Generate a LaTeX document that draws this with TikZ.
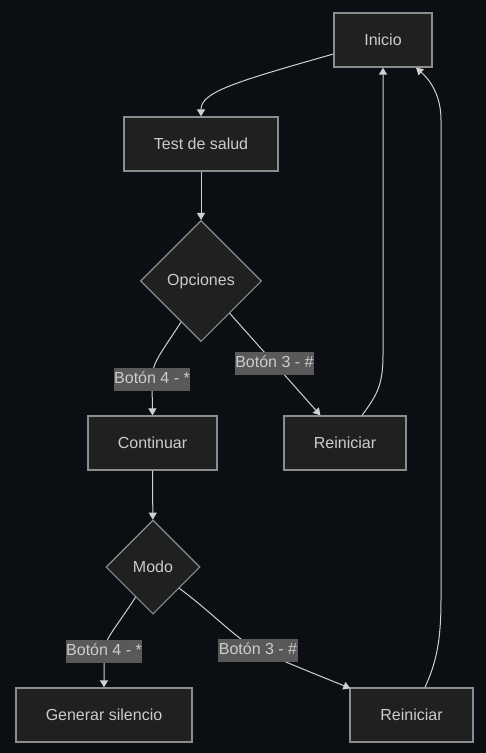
\documentclass[tikz,border=0pt]{standalone}
\usepackage{fontspec}
\setmainfont{Liberation Sans}
\usetikzlibrary{arrows.meta,positioning,shapes.geometric,calc}
\definecolor{canvas}{HTML}{0B0F14}
\definecolor{boxfill}{HTML}{1F2020}
\definecolor{boxline}{HTML}{8C8C8C}
\definecolor{ink}{HTML}{CCCCCC}
\definecolor{wire}{HTML}{D0D0D0}
\definecolor{tagfill}{HTML}{595959}
\tikzset{flowbox/.style={draw=boxline,fill=boxfill,line width=1.3pt,text=ink,
 font=\fontsize{16}{19}\selectfont,minimum height=54pt,inner sep=0pt},
 flowchoice/.style={diamond,draw=boxline,fill=boxfill,line width=1.1pt,text=ink,
 font=\fontsize{16}{19}\selectfont,inner sep=0pt,aspect=1},
 flowtag/.style={fill=tagfill,text=ink,font=\fontsize{16}{19}\selectfont,
 inner xsep=0.5pt,inner ysep=3.5pt,text height=12pt,text depth=4pt},
 flowarrow/.style={-{Triangle[length=7pt,width=8pt]},draw=wire,line width=1pt}}

\begin{document}
\begin{tikzpicture}[x=1pt,y=-1pt]
\fill[canvas] (0,0) rectangle (486,753);
\useasboundingbox (0,0) rectangle (486,753);
\node[flowbox,minimum width=98pt] (inicio) at (383,40) {Inicio};
\node[flowbox,minimum width=154pt] (test) at (201,144) {Test de salud};
\node[flowchoice,minimum size=121pt] (opciones) at (201,281) {Opciones};
\node[flowbox,minimum width=129pt] (continuar) at (152.5,443) {Continuar};
\node[flowbox,minimum width=122pt] (reiniciarA) at (345,443) {Reiniciar};
\node[flowchoice,minimum size=94pt] (modo) at (153,567) {Modo};
\node[flowbox,minimum width=176pt] (generar) at (104,715) {Generar silencio};
\node[flowbox,minimum width=123pt] (reiniciarB) at (411.5,715) {Reiniciar};
% bend points of the curved connectors
\coordinate (tagA) at (152,379);
\coordinate (tagB) at (104,651);
\coordinate (tagC) at (258,650);
\coordinate (riseA) at (383,355);
\coordinate (riseB) at (441,600);
\coordinate (riseC) at (441,120);
\draw[flowarrow] ([yshift=-14pt]inicio.west) .. controls (235,82) and (201,92) .. (test.north);
\draw[flowarrow] (test)--(opciones);
\draw[flowarrow] (opciones.244) .. controls (162,352) and (152,362) .. (tagA) -- (continuar.north);
\draw[flowarrow] (opciones)--(reiniciarA);
\draw[flowarrow] (continuar)--(modo);
\draw[flowarrow] (modo.240) .. controls (117,626) and (104,640) .. (tagB) -- (generar.north);
\draw[flowarrow] (modo.321) .. controls (215,615) and (235,638) .. (tagC) .. controls (285,662) and (320,676) .. ([xshift=1pt,yshift=-1pt]reiniciarB.north west);
\draw[flowarrow] ([xshift=17pt]reiniciarA.north) .. controls (377,395) and (383,385) .. (riseA) -- (inicio.south);
\draw[flowarrow] ([xshift=13.5pt]reiniciarB.north) .. controls (435,665) and (441,645) .. (riseB) -- (riseC) .. controls (441,95) and (430,80) .. ([xshift=33pt]inicio.south);
\node[flowtag] at (tagA) {Botón 4 - *};
\node[flowtag] at ($(opciones)!0.51!(reiniciarA)$) {Botón 3 - \#};
\node[flowtag] at (tagB) {Botón 4 - *};
\node[flowtag] at (tagC) {Botón 3 - \#};
\end{tikzpicture}
\end{document}
